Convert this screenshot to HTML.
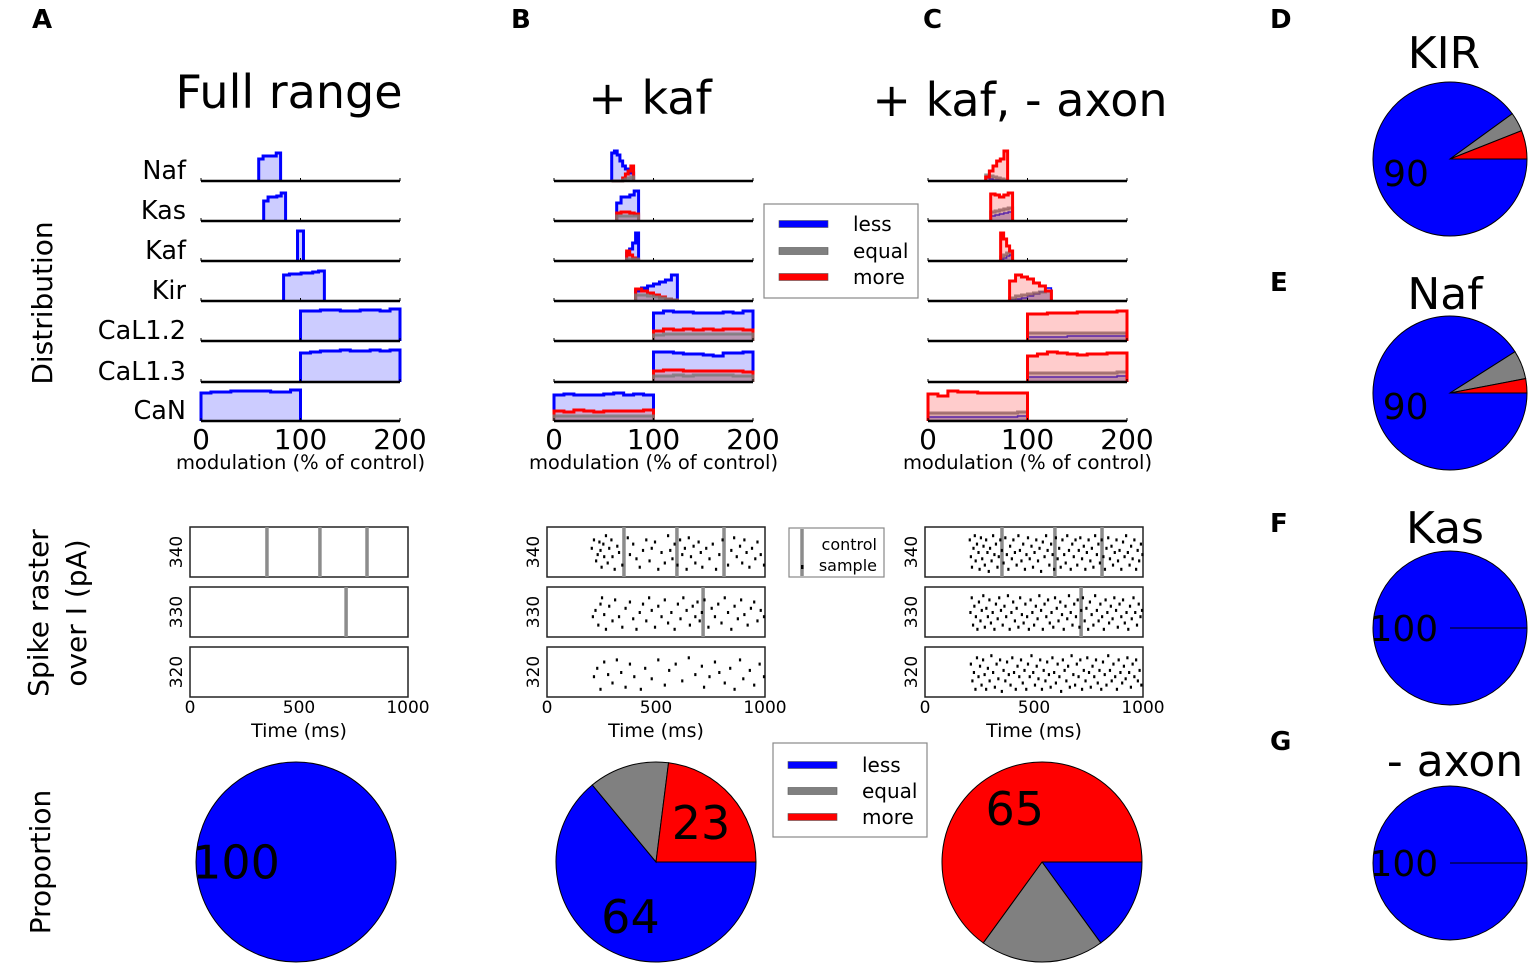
<!DOCTYPE html>
<html><head><meta charset="utf-8">
<style>
html,body{margin:0;padding:0;background:#fff;}
svg{display:block;font-family:"Liberation Sans","DejaVu Sans",sans-serif;}
</style></head>
<body>
<svg id="fig" width="1532" height="966" viewBox="0 0 1532 966" xmlns="http://www.w3.org/2000/svg">
<g font-family="DejaVu Sans, Liberation Sans, sans-serif">
<text x="32" y="28" font-size="26" font-weight="bold">A</text>
<text x="511" y="28" font-size="26" font-weight="bold">B</text>
<text x="923" y="28" font-size="26" font-weight="bold">C</text>
<text x="1270" y="28" font-size="26" font-weight="bold">D</text>
<text x="1270" y="291" font-size="26" font-weight="bold">E</text>
<text x="1270" y="532" font-size="26" font-weight="bold">F</text>
<text x="1270" y="750" font-size="26" font-weight="bold">G</text>
<text x="289" y="108" font-size="46" text-anchor="middle">Full range</text>
<text x="650" y="114" font-size="46" text-anchor="middle">+ kaf</text>
<text x="1020" y="116" font-size="46" text-anchor="middle">+ kaf, - axon</text>
<text x="1444" y="68" font-size="44" text-anchor="middle">KIR</text>
<text x="1445" y="309" font-size="44" text-anchor="middle">Naf</text>
<text x="1445" y="543" font-size="44" text-anchor="middle">Kas</text>
<text x="1455" y="776" font-size="44" text-anchor="middle">- axon</text>
<text transform="translate(52,303) rotate(-90)" font-size="28" text-anchor="middle">Distribution</text>
<text transform="translate(48,613) rotate(-90)" font-size="28" text-anchor="middle">Spike raster</text>
<text transform="translate(86,613) rotate(-90)" font-size="28" text-anchor="middle">over I (pA)</text>
<text transform="translate(50,862) rotate(-90)" font-size="28" text-anchor="middle">Proportion</text>
</g>
<g id="layer" font-family="DejaVu Sans, Liberation Sans, sans-serif"></g>
</svg>
<script>
// ---------- data ----------
const channels = ["Naf","Kas","Kaf","Kir","CaL1.2","CaL1.3","CaN"];
const binLo = [58,63,73,82,100,100,0];
const binHi = [80,85,85,124,200,200,100];
const binLoA = [58,63,97,83,100,100,0];
const binHiA = [80,85,103,124,200,200,100];
const aLess = [
 [22,25,25,25,28],[20,24,24,25,28],[30,30],[26,27,27,28,28,29,30],
 [30,30,31,31,30,30,31,31,30,32],[29,30,31,31,32,31,31,32,31,32],[28,29,29,30,30,30,30,29,29,31]];
const bLess = [
 [28,30,26,20,15,12,10,8],[18,24,24,26,30],[8,12,18,28],[10,13,15,17,19,21,26],
 [28,30,29,29,28,28,28,29,28,30],[30,30,29,28,28,27,26,29,29,30],[26,27,26,26,26,27,28,26,27,26]];
const bEqual = [
 [0,0,0,0,1,2,3,4],[5,5,5,5,5],[2,2,2,2],[6,6,5,4,3,2,1],
 [6,7,7,7,7,7,7,7,7,7],[6,6,7,6,7,7,7,7,6,6],[5,5,5,5,5,5,5,5,5,5]];
const bMore = [
 [0,0,0,0,3,7,10,15],[8,9,9,8,7],[10,6,3,1],[12,10,8,6,4,2,1],
 [10,12,11,12,11,12,11,12,12,11],[11,12,12,11,11,11,11,11,11,10],[10,9,11,10,9,10,10,10,10,11]];
const cLess = [
 [3,2,1,1,0,0],[5,6,7,8,9],[2,3,5,6],[1,2,3,5,7,9,13],
 [4,4,4,4,5,5,5,5,5,5],[5,5,5,5,5,5,5,5,5,6],[4,4,4,4,4,4,4,4,4,5]];
const cEqual = [
 [6,5,4,3,2,1],[9,10,11,12,13],[4,6,8,10],[3,5,6,7,8,9,10],
 [8,8,8,8,8,8,8,8,8,8],[9,9,9,9,9,9,9,9,9,10],[8,8,8,8,8,8,8,8,8,9]];
const cMore = [
 [4,10,15,20,22,30],[27,26,24,26,28],[28,22,15,10],[20,26,24,22,18,15,10],
 [27,27,28,28,28,29,29,29,29,30],[26,28,30,29,28,27,28,28,29,29],[27,25,30,29,29,28,28,28,28,28]];
const modTicks = [0,100,200];
const currents = ["340","330","320"];
const timeTicks = [0,500,1000];
const controlSpikes = [[353,596,812],[716],[]];
const bSpikes340 = [[205,.4],[215,.2],[225,.7],[232,.55],[240,.25],[245,.45],[250,.85],[258,.3],[262,.6],[270,.1],[278,.75],[285,.4],[295,.2],[300,.6],[310,.9],[322,.35],[330,.5],[345,.8],[370,.15],[380,.55],[395,.3],[410,.65],[425,.85],[440,.45],[455,.2],[470,.7],[480,.4],[495,.25],[510,.9],[525,.5],[540,.75],[555,.1],[565,.45],[575,.65],[585,.3],[598,.8],[610,.2],[620,.55],[632,.4],[640,.9],[650,.15],[660,.6],[672,.35],[680,.75],[695,.25],[705,.5],[712,.85],[730,.4],[745,.65],[760,.3],[775,.9],[790,.55],[805,.2],[830,.8],[845,.45],[858,.15],[870,.6],[885,.35],[895,.75],[905,.2],[915,.5],[928,.85],[940,.4],[955,.65],[965,.25],[980,.55],[995,.8]];
const bSpikes330 = [[210,.6],[222,.45],[235,.8],[245,.3],[252,.15],[262,.55],[270,.9],[285,.35],[300,.7],[312,.2],[330,.6],[345,.85],[360,.4],[380,.25],[395,.65],[410,.9],[425,.5],[440,.3],[455,.7],[468,.15],[480,.45],[495,.85],[510,.35],[525,.6],[540,.2],[555,.75],[570,.5],[585,.9],[600,.3],[612,.65],[625,.15],[640,.45],[655,.8],[668,.35],[680,.6],[690,.25],[700,.7],[710,.5],[722,.2],[740,.85],[755,.4],[770,.6],[785,.3],[800,.75],[815,.15],[830,.5],[845,.9],[860,.35],[875,.65],[890,.2],[905,.55],[920,.8],[935,.4],[950,.25],[965,.7],[980,.45],[995,.6]];
const bSpikes320 = [[215,.6],[230,.4],[245,.9],[262,.25],[280,.55],[300,.75],[320,.2],[340,.5],[360,.85],[380,.3],[400,.6],[430,.9],[450,.4],[480,.65],[510,.2],[540,.8],[560,.45],[590,.3],[620,.7],[650,.15],[680,.55],[710,.35],[720,.85],[745,.6],[770,.25],[790,.5],[815,.75],[840,.4],[860,.9],[885,.2],[900,.65],[930,.45],[950,.8],[975,.3],[995,.6]];
const cSpikes340 = [[205,.2],[210,.6],[215,.85],[222,.4],[228,.1],[232,.7],[238,.3],[245,.5],[250,.9],[256,.15],[262,.65],[268,.35],[274,.8],[280,.2],[286,.5],[292,.95],[298,.4],[305,.7],[312,.1],[318,.55],[325,.3],[332,.85],[338,.6],[345,.2],[352,.45],[360,.75],[368,.15],[375,.55],[382,.9],[390,.35],[398,.65],[405,.2],[412,.5],[420,.8],[428,.1],[435,.45],[442,.7],[450,.3],[458,.9],[465,.55],[472,.15],[480,.65],[488,.35],[495,.85],[502,.5],[510,.2],[518,.7],[525,.4],[532,.95],[540,.25],[548,.6],[555,.1],[562,.45],[570,.8],[578,.3],[585,.55],[592,.9],[600,.15],[608,.65],[615,.4],[622,.85],[630,.2],[638,.55],[645,.75],[652,.1],[660,.45],[668,.9],[675,.3],[682,.6],[690,.2],[698,.8],[705,.45],[712,.15],[720,.65],[728,.35],[735,.9],[742,.5],[750,.2],[758,.7],[765,.4],[772,.85],[780,.1],[788,.55],[795,.3],[802,.75],[810,.2],[818,.6],[825,.9],[832,.4],[840,.15],[848,.65],[855,.35],[862,.8],[870,.5],[878,.2],[885,.7],[892,.45],[900,.9],[908,.25],[915,.6],[922,.1],[930,.5],[938,.8],[945,.35],[952,.65],[960,.2],[968,.9],[975,.45],[982,.7],[990,.3],[997,.55]];
const cSpikes330 = [[208,.5],[214,.15],[220,.8],[226,.35],[233,.6],[240,.9],[247,.25],[254,.7],[260,.45],[267,.1],[274,.85],[281,.4],[288,.6],[295,.2],[302,.75],[310,.5],[318,.9],[325,.3],[333,.65],[340,.15],[348,.45],[356,.8],[364,.35],[372,.6],[380,.1],[388,.9],[396,.5],[404,.25],[412,.7],[420,.4],[428,.85],[436,.15],[444,.55],[452,.75],[460,.3],[468,.6],[476,.9],[484,.2],[492,.5],[500,.8],[508,.35],[516,.65],[524,.1],[532,.45],[540,.9],[548,.3],[556,.6],[564,.2],[572,.75],[580,.5],[588,.85],[596,.15],[604,.4],[612,.7],[620,.25],[628,.55],[636,.9],[644,.35],[652,.65],[660,.1],[668,.5],[676,.8],[684,.3],[692,.6],[700,.2],[708,.85],[716,.45],[724,.15],[732,.7],[740,.4],[748,.9],[756,.25],[764,.55],[772,.8],[780,.1],[788,.45],[796,.7],[804,.3],[812,.6],[820,.9],[828,.2],[836,.5],[844,.75],[852,.35],[860,.65],[868,.15],[876,.45],[884,.85],[892,.3],[900,.6],[908,.2],[916,.75],[924,.5],[932,.9],[940,.35],[948,.65],[956,.15],[964,.5],[972,.8],[980,.3],[988,.6],[995,.45]];
const cSpikes320 = [[210,.3],[217,.7],[224,.5],[231,.9],[238,.15],[245,.6],[252,.35],[259,.8],[266,.2],[273,.55],[280,.9],[288,.4],[296,.7],[304,.1],[312,.5],[320,.85],[328,.3],[336,.65],[344,.2],[352,.95],[360,.45],[368,.7],[376,.25],[384,.55],[392,.8],[400,.15],[408,.5],[416,.9],[424,.35],[432,.6],[440,.2],[448,.75],[456,.45],[464,.9],[472,.3],[480,.6],[488,.1],[496,.5],[504,.8],[512,.35],[520,.65],[528,.2],[536,.9],[544,.45],[552,.7],[560,.25],[568,.55],[576,.85],[584,.15],[592,.5],[600,.75],[608,.3],[616,.6],[624,.95],[632,.2],[640,.45],[648,.7],[656,.35],[664,.85],[672,.1],[680,.55],[688,.8],[696,.3],[704,.6],[712,.2],[720,.9],[728,.45],[736,.7],[744,.15],[752,.5],[760,.85],[768,.35],[776,.6],[784,.2],[792,.75],[800,.45],[808,.9],[816,.25],[824,.55],[832,.8],[840,.1],[848,.45],[856,.7],[864,.3],[872,.6],[880,.9],[888,.2],[896,.5],[904,.75],[912,.35],[920,.65],[928,.15],[936,.5],[944,.85],[952,.3],[960,.6],[968,.2],[976,.7],[984,.45],[992,.8]];
const pieA = [100,0,0];
const pieB = [64,13,23];
const pieC = [15,20,65];
const pieKIR = [90,4,6];
const pieNaf = [91,6,3];
const pieKas = [100,0,0];
const pieAxon = [100,0,0];
const pieLabelA = "100", pieLabelB1 = "64", pieLabelB3 = "23", pieLabelC3 = "65";

// ---------- drawing ----------
const NS = "http://www.w3.org/2000/svg";
const layer = document.getElementById("layer");
function mk(tag, attrs, parent){
  const e = document.createElementNS(NS, tag);
  for (const k in attrs) e.setAttribute(k, attrs[k]);
  (parent||layer).appendChild(e);
  return e;
}
function txt(x,y,s,size,anchor,parent){
  const t = mk("text",{x:x,y:y,"font-size":size,"text-anchor":anchor||"middle"},parent);
  t.textContent = s;
  return t;
}
const baselines = [181,221,261,301,341,382,421];
function stepPath(xs, lo, hi, vals, base){
  const n = vals.length, w = (hi-lo)/n;
  let d = "M"+xs(lo)+","+base;
  for (let i=0;i<n;i++){
    const y = base - vals[i];
    d += " L"+xs(lo+i*w)+","+y+" L"+xs(lo+(i+1)*w)+","+y;
  }
  d += " L"+xs(hi)+","+base;
  return d;
}
function distPanel(x0, series, los, his, name, labels){
  const xs = v => x0 + v*(199/200);
  const g = mk("g",{});
  
  
  for (let r=0;r<channels.length;r++){
    const b = baselines[r];
    series.forEach(s=>{
      const p = mk("path",{d:stepPath(xs,los[r],his[r],s.vals[r],b),fill:s.fill,stroke:s.stroke,"stroke-width":s.sw,"stroke-linejoin":"miter"},g);
      
      
    });
    const ax = mk("line",{x1:xs(0),x2:xs(200),y1:b,y2:b,stroke:"#000","stroke-width":2.6},g);
    
    
    modTicks.forEach(t=>{ mk("line",{x1:xs(t),x2:xs(t),y1:b,y2:b-3,stroke:"#000","stroke-width":1},g); });
    if (labels){
      const l = txt(x0-15,b-2,channels[r],25.5,"end",g);
      
      
    }
  }
  modTicks.forEach(t=>{
    const l = txt(xs(t),449,String(t),28,"middle",g);
    
    
  });
  const xl = txt(xs(100),469,"modulation (% of control)",19.5,"middle",g);
  
  
}
const sLess = (v,sw)=>({key:"less",vals:v,fill:"rgba(0,0,255,0.2)",stroke:"#0000ff",sw:sw||3});
const sEq = v=>({key:"equal",vals:v,fill:"rgba(128,128,128,0.35)",stroke:"rgba(120,120,120,0.8)",sw:3});
const sMore = v=>({key:"more",vals:v,fill:"rgba(255,0,0,0.2)",stroke:"#ff0000",sw:3});
distPanel(201,[sLess(aLess)],binLoA,binHiA,"distribution-full-range",true);
distPanel(554,[sLess(bLess),sMore(bMore),sEq(bEqual)],binLo,binHi,"distribution-kaf",false);
distPanel(928,[sLess(cLess,1.5),sEq(cEqual),sMore(cMore)],binLo,binHi,"distribution-kaf-axon",false);

// rasters
const rowTops = [527,587,647], rowH = 50;
function raster(x0, spikeRows, name){
  const W = 218, xs = t => x0 + t*W/1000;
  const g = mk("g",{});
  
  
  for (let r=0;r<3;r++){
    const top = rowTops[r];
    const fr = mk("rect",{x:x0,y:top,width:W,height:rowH,fill:"#fff",stroke:"#222","stroke-width":1.5},g);
    
    
    controlSpikes[r].forEach(t=>{
      const c = mk("line",{x1:xs(t),x2:xs(t),y1:top,y2:top+rowH,stroke:"#8c8c8c","stroke-width":3.5},g);
      
      
    });
    (spikeRows[r]||[]).forEach(p=>{
      const s = mk("rect",{x:xs(p[0])-1,y:top+3+p[1]*(rowH-8),width:2.2,height:3,fill:"#000"},g);
      
      
    });
    const yl = txt(0,0,currents[r],17,"middle",g);
    yl.setAttribute("transform","translate("+(x0-8)+","+(top+rowH/2)+") rotate(-90)");
    
    
  }
  timeTicks.forEach(t=>{
    const l = txt(xs(t),713,String(t),17,"middle",g);
    
    
  });
  const xt = txt(xs(500),737,"Time (ms)",19,"middle",g);
  
  
}
raster(190,[[],[],[]],"raster-full-range");
raster(547,[bSpikes340,bSpikes330,bSpikes320],"raster-kaf");
raster(925,[cSpikes340,cSpikes330,cSpikes320],"raster-kaf-axon");

// pies
const pieColors = ["#0000ff","#808080","#ff0000"], pieKeys=["less","equal","more"];
function pie(cx, cy, r, vals, name){
  const g = mk("g",{});
  
  
  const tot = vals.reduce((a,b)=>a+b,0);
  let a0 = 0;
  vals.forEach((v,i)=>{
    if (v<=0) return;
    const a1 = a0 + v/tot*2*Math.PI;
    let el;
    if (v>=tot){
      el = mk("circle",{cx:cx,cy:cy,r:r,fill:pieColors[i],stroke:"#000","stroke-width":1},g);
    } else {
      const x0=cx+r*Math.cos(a0), y0=cy+r*Math.sin(a0), x1=cx+r*Math.cos(a1), y1=cy+r*Math.sin(a1);
      const large = (a1-a0)>Math.PI?1:0;
      el = mk("path",{d:"M"+cx+","+cy+" L"+x0+","+y0+" A"+r+","+r+" 0 "+large+" 1 "+x1+","+y1+" Z",fill:pieColors[i],stroke:"#000","stroke-width":1},g);
    }
    
    
    a0 = a1;
  });
  return {g:g, lab:(i,s,size)=>{
    let s0=0; for(let k=0;k<i;k++) s0+=vals[k];
    const mid = (s0+vals[i]/2)/tot*2*Math.PI;
    const t = txt(cx+0.6*r*Math.cos(mid), cy+0.6*r*Math.sin(mid)+size*0.36, s, size, "middle", g);
    
    
  }};
}
pie(296,862,100,pieA,"pie-full-range").lab(0,pieLabelA,46);
const pb = pie(656,862,100,pieB,"pie-kaf"); pb.lab(0,pieLabelB1,46); pb.lab(2,pieLabelB3,46);
pie(1042,862,100,pieC,"pie-kaf-axon").lab(2,pieLabelC3,46);
function smallPie(cy, vals, name){
  const p = pie(1450,cy,77,vals,name);
  p.lab(0,String(vals[0]>=100?100:90),36);
  if (vals[1]===0){ mk("line",{x1:1450,y1:cy,x2:1527,y2:cy,stroke:"#000","stroke-width":1},p.g); }
}
smallPie(159,pieKIR,"pie-kir");
smallPie(393,pieNaf,"pie-naf");
smallPie(628,pieKas,"pie-kas");
smallPie(863,pieAxon,"pie-axon");

// legends
function legend(x,y,w,h,name,rowYs,lx,tx){
  const g = mk("g",{});
  
  
  mk("rect",{x:x,y:y,width:w,height:h,fill:"#fff",stroke:"#888","stroke-width":1.2},g);
  pieKeys.forEach((k,i)=>{
    const sw = mk("rect",{x:lx,y:rowYs[i]-3.5,width:49,height:7,fill:pieColors[i],stroke:"#555","stroke-width":0.6},g);
    
    
    const t = txt(tx,rowYs[i]+7,k,20,"start",g);
    
    
  });
}
legend(764,204,154,94,"legend-distribution",[224,251,277],779,853);
legend(773,743,154,94,"legend-proportion",[765,791,817],788,862);
const rl = mk("g",{});


mk("rect",{x:789,y:528,width:95,height:49,fill:"#fff",stroke:"#888","stroke-width":1.2},rl);
mk("line",{x1:802,x2:802,y1:529,y2:576,stroke:"#8c8c8c","stroke-width":3.5},rl);
mk("rect",{x:801,y:565,width:2.5,height:4,fill:"#000"},rl);
const t1 = txt(877,550,"control",16,"end",rl);


const t2 = txt(877,571,"sample",16,"end",rl);


</script>
</body></html>
